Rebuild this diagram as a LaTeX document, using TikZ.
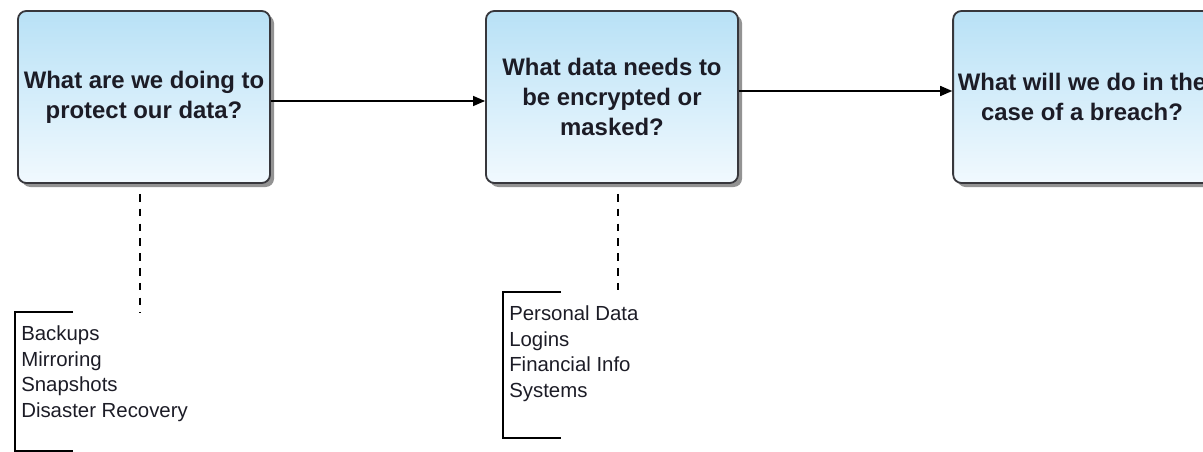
\documentclass[tikz,border=0pt]{standalone}
\usepackage{fontspec}
\setmainfont{Liberation Sans}
\usetikzlibrary{arrows.meta,shadows}

\definecolor{boxtop}{RGB}{184,225,246}
\definecolor{boxbottom}{RGB}{241,249,254}
\definecolor{boxline}{RGB}{55,55,60}
\definecolor{textdark}{RGB}{28,28,38}

\tikzstyle{question} = [draw=boxline, line width=1.3pt, rounded corners=6pt, minimum width=6.3cm, minimum height=4.3cm, top color=boxtop, bottom color=boxbottom, align=center, text=textdark, font=\fontsize{17}{21.3}\selectfont\bfseries, drop shadow={shadow xshift=0.1cm, shadow yshift=-0.1cm, fill=gray!85, opacity=1}]
\tikzstyle{note} = [anchor=north west, align=left, inner xsep=0.15cm, inner ysep=0.34cm, text=textdark, font=\fontsize{14.5}{18.1}\selectfont]
\tikzstyle{flow} = [draw, line width=1pt, -{Triangle[length=0.3cm,width=0.25cm]}]
\tikzstyle{link} = [draw, line width=1pt, dash pattern=on 0.19cm off 0.18cm]
\tikzstyle{bracket} = [draw, line width=1pt]

\begin{document}
\begin{tikzpicture}[x=0.025cm, y=-0.025cm]
      \useasboundingbox (0,0) rectangle (1203,452);
      \clip (0,0) rectangle (1203,452);
      %nodes
      \foreach \nodename/\x/\y/\question in {
        protect/144/97/{What are we doing to\\protect our data?},
        encrypt/612/97/{What data needs to\\be encrypted or\\masked?},
        breach/1082/97/{What will we do in the\\case of a breach?}}
      {
        \node[question] (\nodename) at (\x,\y) {\question};
      };
      %notes
      \foreach \nodename/\x/\y/\height/\items in {
        protectnote/15/312/139/{Backups\\Mirroring\\Snapshots\\Disaster Recovery},
        encryptnote/503/292/146/{Personal Data\\Logins\\Financial Info\\Systems}}
      {
        \node[note] (\nodename) at (\x,\y) {\items};
        \draw[bracket] ([xshift=1.45cm]\nodename.north west) -- (\nodename.north west) -- ++(0,\height) -- ++(58,0);
      };
      %edges
      \path
      \foreach \startnode/\endnode/\shift in {protect/encrypt/-4, encrypt/breach/6}
      {
        ([yshift=\shift*0.025cm]\startnode.east) edge[flow] ([yshift=\shift*0.025cm]\endnode.west)
      };
      \foreach \startnode/\shift/\endname/\x/\y in {protect/-4/protectend/140/313, encrypt/6/encryptend/618/293}
      {
        \coordinate (\endname) at (\x,\y);
        \draw[link] ([xshift=\shift*0.025cm, yshift=-0.25cm]\startnode.south) -- (\endname);
      };
\end{tikzpicture}
\end{document}
